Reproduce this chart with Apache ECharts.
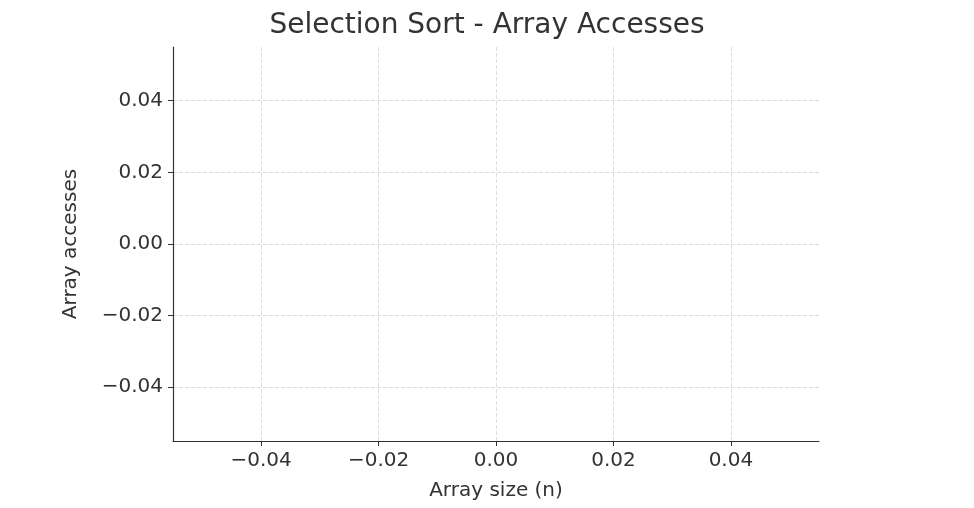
<!DOCTYPE html>
<html><head><meta charset="utf-8">
<script src="https://cdn.jsdelivr.net/npm/echarts@6/dist/echarts.min.js"></script>
<style>html,body{margin:0;padding:0;background:#fff}#c{width:974px;height:508px}</style>
</head><body><div id="c"></div>
<script>
const arraySizes = [];
const arrayAccesses = [];
const xTicks = [-0.04, -0.02, 0.00, 0.02, 0.04];
const yTicks = [-0.04, -0.02, 0.00, 0.02, 0.04];
const fmt = v => (Math.abs(v) < 1e-9 ? 0 : v).toFixed(2).replace('-', '\u2212');
const font = 'DejaVu Sans';
const chart = echarts.init(document.getElementById('c'));
function axis(ticks, name, gap) {
  return {
    type: 'value', min: -0.055, max: 0.055, name: name, nameLocation: 'middle', nameGap: gap,
    nameTextStyle: {color: '#333', fontSize: 20, fontFamily: font},
    axisLine: {show: true, onZero: false, lineStyle: {color: '#333', width: 1.2}},
    axisTick: {show: true, customValues: ticks, length: 5, lineStyle: {color: '#333'}},
    axisLabel: {customValues: ticks, formatter: fmt, color: '#333', fontSize: 20, fontFamily: font, margin: 10},
    splitLine: {show: true, lineStyle: {color: '#ddd', type: 'dashed', width: 1}}
  };
}
chart.setOption({
  animation: false,
  title: {text: 'Selection Sort - Array Accesses', left: 'center', top: 7,
    textStyle: {color: '#333', fontSize: 28, fontWeight: 'normal', fontFamily: font}},
  grid: {left: 173, right: 155, top: 47, bottom: 67},
  xAxis: axis(xTicks, 'Array size (n)', 40),
  yAxis: axis(yTicks, 'Array accesses', 92),
  series: [{type: 'line', data: arraySizes.map((x, i) => [x, arrayAccesses[i]]), color: '#1f77b4'}]
});
</script></body></html>
